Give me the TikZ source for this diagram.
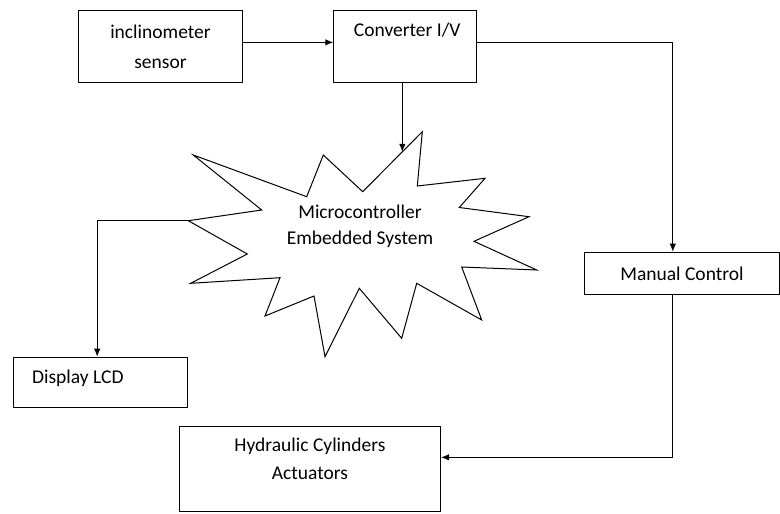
\documentclass[tikz,border=0pt]{standalone}
\usepackage{fontspec}
\setmainfont{Carlito}
\usetikzlibrary{arrows.meta}
\begin{document}
\begin{tikzpicture}[x=1pt, y=-1pt, >={Latex[length=8pt,width=6.5pt]}, line width=1pt,
    blk/.style={draw, inner sep=0pt, anchor=north west},
    every node/.style={font=\fontsize{19.5}{27}\selectfont}]
    \useasboundingbox (0,0) rectangle (780,514);

    \node[blk, minimum width=163.4pt, minimum height=71.7pt, align=center] (sens) at (78.3,10) {inclinometer\\[3pt]sensor};
    \node[blk, minimum width=142.7pt, minimum height=71.7pt,
        label={[anchor=center, xshift=2pt, yshift=-20pt]north:Converter I/V}] (conv) at (333.3,10) {};
    \node[blk, minimum width=195pt, minimum height=42.6pt] (man) at (584,251.7) {Manual Control};
    \node[blk, minimum width=174pt, minimum height=50pt,
        label={[anchor=west, xshift=15pt, yshift=3.5pt]west:Display LCD}] (disp) at (13.3,356.7) {};
    \node[blk, minimum width=261pt, minimum height=85.3pt,
        label={[anchor=center, align=center, yshift=-33pt]north:Hydraulic Cylinders\\[1pt]Actuators}] (hyd) at (179,425.7) {};

    % star burst
    \draw (193.3,155) -- (306.7,196.7) -- (323.3,155) -- (362.7,191.7) -- (422.3,131.7)
        -- (417.3,186) -- (485,178.3) -- (459.3,207.5) -- (529,216.7) -- (474,241.3)
        -- (536.7,270) -- (461.7,267) -- (481.7,320) -- (416.7,283.3) -- (401.7,338.3)
        -- (359.3,288.3) -- (325,356.7) -- (314,296) -- (265,316) -- (280,277.7)
        -- (190.7,283.3) -- (247.3,254) -- (188.3,220.7) -- (261.7,210) -- cycle;
    \node[align=center] (mcu) at (360,226.3) {Microcontroller\\[-1pt]Embedded System};
    \coordinate (tipL) at (188.3,220.7);
    \coordinate (hit) at (402.3,151.8);

    \draw[->] ([yshift=4pt]sens.east) -- ([yshift=4pt]conv.west);
    \draw[->] ([yshift=4pt]conv.east) -| ([xshift=-9.2pt]man.north);
    \draw[->] (conv.south -| hit) -- (hit);
    \draw[->] (tipL) -| ([xshift=-3.6pt]disp.north);
    \draw[->] ([xshift=-9.2pt]man.south) |- ([yshift=11.5pt]hyd.east);
\end{tikzpicture}
\end{document}
